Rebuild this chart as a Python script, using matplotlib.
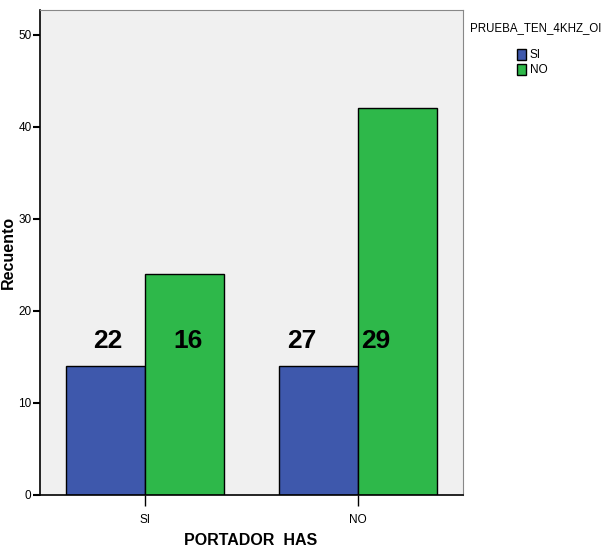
import matplotlib
matplotlib.use('Agg')
import matplotlib.pyplot as plt
import numpy as np

# datos
grupos = ['SI', 'NO']
series = ['SI', 'NO']
valores_si = [14, 14]
valores_no = [24, 42]
etiquetas = ['22', '16', '27', '29']

plt.rcParams['font.family'] = ['Liberation Sans', 'DejaVu Sans']

fig = plt.figure(figsize=(6.03, 5.49), dpi=100)
ax = fig.add_axes([0.066, 0.0984, 0.702, 0.8836])
ax.set_facecolor('#f0f0f0')

x = np.arange(len(grupos))
w = 0.371
b1 = ax.bar(x - w / 2, valores_si, w, color='#3e58ac', edgecolor='black', linewidth=1, label=series[0])
b2 = ax.bar(x + w / 2, valores_no, w, color='#2eb84a', edgecolor='black', linewidth=1, label=series[1])

# numeros grandes encima de las barras
offs = [0.012, 0.019, -0.077, -0.103]
centros = [x[0] - w / 2, x[0] + w / 2, x[1] - w / 2, x[1] + w / 2]
for c, o, t in zip(centros, offs, etiquetas):
    ax.text(c + o, 16.7, t, ha='center', va='center', fontsize=19, fontweight='bold')

ax.set_xlim(-0.493, 1.493)
ax.set_ylim(0, 52.7)
ax.set_xticks(x)
ax.set_xticklabels(grupos, fontsize=8.5)
ax.set_yticks([0, 10, 20, 30, 40, 50])
ax.tick_params(axis='y', labelsize=8.5, length=5, width=1.5, pad=1)
ax.tick_params(axis='x', length=8, width=1, pad=6)
for s in ['top', 'right']:
    ax.spines[s].set_color('#888888')
for s in ['left', 'bottom']:
    ax.spines[s].set_color('black')
    ax.spines[s].set_linewidth(1.2)

ax.set_xlabel('PORTADOR  HAS', fontsize=11.5, fontweight='bold')
ax.xaxis.set_label_coords(0.497, -0.078)
ax.set_ylabel('Recuento', fontsize=11.5, fontweight='bold')
ax.yaxis.set_label_coords(-0.056, 0.5)

fig.text(0.779, 0.949, 'PRUEBA_TEN_4KHZ_OI', fontsize=8.3, va='center', ha='left')
leg = fig.legend(handles=[b1, b2], labels=series, loc='upper left', bbox_to_anchor=(0.847, 0.922),
                 frameon=False, fontsize=8.5, handlelength=0.8, handleheight=1.1,
                 handletextpad=0.3, labelspacing=0.2, borderpad=0)

fig.savefig('out.png', dpi=100)
